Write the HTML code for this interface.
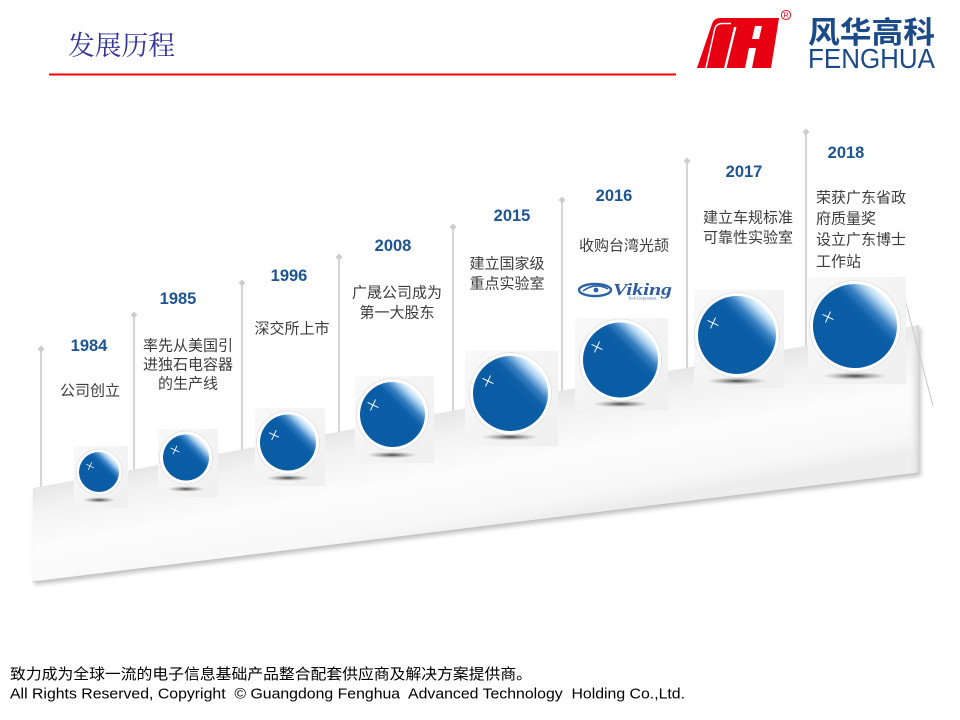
<!DOCTYPE html>
<html>
<head>
<meta charset="utf-8">
<style>
html,body{margin:0;padding:0;background:#fff;}
svg{display:block;}
text{font-family:"Liberation Sans","Noto Sans CJK SC",sans-serif;}
</style>
</head>
<body>
<svg width="960" height="720" viewBox="0 0 960 720" xmlns="http://www.w3.org/2000/svg">
<defs>
  <linearGradient id="ramp" gradientUnits="userSpaceOnUse" x1="476" y1="406" x2="498" y2="528">
    <stop offset="0" stop-color="#e6e6e6"/>
    <stop offset="0.18" stop-color="#f2f2f2"/>
    <stop offset="0.5" stop-color="#fcfcfc"/>
    <stop offset="0.85" stop-color="#f8f8f8"/>
    <stop offset="1" stop-color="#ededed"/>
  </linearGradient>
  <linearGradient id="rightEdge" x1="0" y1="0" x2="1" y2="0">
    <stop offset="0" stop-color="#ffffff" stop-opacity="0"/>
    <stop offset="1" stop-color="#d5d5d5"/>
  </linearGradient>
  <filter id="blur3" x="-10%" y="-10%" width="120%" height="130%">
    <feGaussianBlur stdDeviation="2"/>
  </filter>
  <linearGradient id="ball" x1="0.85" y1="0.15" x2="0.55" y2="0.45">
    <stop offset="0" stop-color="#f4faff"/>
    <stop offset="0.2" stop-color="#b4d7f2"/>
    <stop offset="0.5" stop-color="#3a81c4"/>
    <stop offset="0.75" stop-color="#0e61a8"/>
    <stop offset="1" stop-color="#0a5ca4"/>
  </linearGradient>
  <radialGradient id="sh" cx="0.5" cy="0.5" r="0.5">
    <stop offset="0" stop-color="#222" stop-opacity="0.85"/>
    <stop offset="0.6" stop-color="#666" stop-opacity="0.35"/>
    <stop offset="1" stop-color="#999" stop-opacity="0"/>
  </radialGradient>
  <linearGradient id="box" x1="0" y1="0" x2="1" y2="1">
    <stop offset="0" stop-color="#f9f9f9"/>
    <stop offset="1" stop-color="#efefef"/>
  </linearGradient>
  <g id="spark">
    <path d="M-6,0 L6,0 M0,-6 L0,6" stroke="#ffffff" stroke-width="1" transform="rotate(25)"/>
  </g>
</defs>

<!-- Header -->
<text x="68" y="55" font-size="27" fill="#34359a" textLength="107" lengthAdjust="spacingAndGlyphs" style="font-family:'Noto Serif CJK SC','Liberation Serif',serif;">发展历程</text>
<rect x="49" y="73.5" width="627" height="2" fill="#ff0000"/>

<!-- Logo -->
<path d="M697,68 L712,24 Q714,18 720,18 L779,18 L771,68 Z" fill="#e60012"/>
<path d="M706,68 L715,28 Q717,23.5 722,23.5 L731,23.5" stroke="#fff" stroke-width="1.5" fill="none"/>
<polygon points="724,68 726.5,68 736.5,27 734,27" fill="#fff"/>
<polygon points="745,68 752,68 756,48 749,48" fill="#fff"/>
<polygon points="752,39 759,39 762,26 755,26" fill="#fff"/>
<circle cx="786" cy="15" r="4.6" fill="none" stroke="#e60012" stroke-width="0.9"/>
<text x="786" y="17.6" font-size="7" fill="#e60012" text-anchor="middle">R</text>
<text x="808" y="43" font-size="30" font-weight="bold" fill="#1a4a8a" textLength="127" lengthAdjust="spacingAndGlyphs" style="font-family:'Noto Sans CJK SC',sans-serif;">风华高科</text>
<text x="808" y="68" font-size="27.5" fill="#1a4a8a" textLength="127" lengthAdjust="spacingAndGlyphs">FENGHUA</text>

<!-- Timeline vertical lines -->
<g stroke="#d6d6d6" stroke-width="2">
  <line x1="41" y1="349" x2="41" y2="500"/>
  <line x1="134" y1="315" x2="134" y2="500"/>
  <line x1="242" y1="283" x2="242" y2="480"/>
  <line x1="339" y1="257" x2="339" y2="460"/>
  <line x1="453" y1="227" x2="453" y2="440"/>
  <line x1="562" y1="200" x2="562" y2="420"/>
  <line x1="687" y1="161" x2="687" y2="400"/>
  <line x1="806" y1="132" x2="806" y2="380"/>
</g>
<g fill="#cdcdcd">
  <polygon points="41,345.5 44.5,349 41,352.5 37.5,349"/>
  <polygon points="134,311.5 137.5,315 134,318.5 130.5,315"/>
  <polygon points="242,279.5 245.5,283 242,286.5 238.5,283"/>
  <polygon points="339,253.5 342.5,257 339,260.5 335.5,257"/>
  <polygon points="453,223.5 456.5,227 453,230.5 449.5,227"/>
  <polygon points="562,196.5 565.5,200 562,203.5 558.5,200"/>
  <polygon points="687,157.5 690.5,161 687,164.5 683.5,161"/>
  <polygon points="806,128.5 809.5,132 806,135.5 802.5,132"/>
</g>

<!-- Ramp -->
<polygon points="35,491 921,328 921,476 35,585" fill="#8a8a8a" opacity="0.5" filter="url(#blur3)"/>
<polygon points="33,488 919,325 919,473 33,582" fill="url(#ramp)"/>
<polygon points="907,327 919,325 919,473 907,475" fill="url(#rightEdge)"/>
<line x1="33" y1="582" x2="919" y2="473" stroke="#c4c4c4" stroke-width="1"/>
<line x1="903" y1="292" x2="933" y2="406" stroke="#c8c8c8" stroke-width="1"/>

<!-- Balls -->
<!-- 1984 -->
<rect x="74" y="446" width="54" height="62" fill="url(#box)"/>
<ellipse cx="99" cy="500" rx="17" ry="3" fill="url(#sh)"/>
<circle cx="99" cy="472" r="23" fill="#fff" stroke="#e0e0e0" stroke-width="0.8"/>
<circle cx="99" cy="472" r="20" fill="url(#ball)"/>
<use href="#spark" transform="translate(90,466) scale(0.7)"/>
<!-- 1985 -->
<rect x="158" y="429" width="60" height="68" fill="url(#box)"/>
<ellipse cx="186" cy="489" rx="19" ry="3" fill="url(#sh)"/>
<circle cx="186" cy="457.5" r="26.5" fill="#fff" stroke="#e0e0e0" stroke-width="0.8"/>
<circle cx="186" cy="457.5" r="23" fill="url(#ball)"/>
<use href="#spark" transform="translate(175,450) scale(0.8)"/>
<!-- 1996 -->
<rect x="255" y="408" width="70" height="78" fill="url(#box)"/>
<ellipse cx="288" cy="478" rx="23" ry="3.2" fill="url(#sh)"/>
<circle cx="288" cy="442.5" r="31.5" fill="#fff" stroke="#e0e0e0" stroke-width="0.8"/>
<circle cx="288" cy="442.5" r="28" fill="url(#ball)"/>
<use href="#spark" transform="translate(274,435) scale(0.9)"/>
<!-- 2008 -->
<rect x="355" y="376" width="79" height="87" fill="url(#box)"/>
<ellipse cx="392" cy="455" rx="26" ry="3.4" fill="url(#sh)"/>
<circle cx="392.5" cy="414.5" r="36" fill="#fff" stroke="#e0e0e0" stroke-width="0.8"/>
<circle cx="392.5" cy="414.5" r="32.5" fill="url(#ball)"/>
<use href="#spark" transform="translate(373,405)"/>
<!-- 2015 -->
<rect x="465" y="351" width="93" height="95" fill="url(#box)"/>
<ellipse cx="510" cy="437" rx="29" ry="3.6" fill="url(#sh)"/>
<circle cx="510.5" cy="393.5" r="41" fill="#fff" stroke="#e0e0e0" stroke-width="0.8"/>
<circle cx="510.5" cy="393.5" r="37.5" fill="url(#ball)"/>
<use href="#spark" transform="translate(488,381)"/>
<!-- 2016 -->
<rect x="575" y="318" width="93" height="92" fill="url(#box)"/>
<ellipse cx="621" cy="404" rx="29" ry="3.6" fill="url(#sh)"/>
<circle cx="620.5" cy="360" r="41" fill="#fff" stroke="#e0e0e0" stroke-width="0.8"/>
<circle cx="620.5" cy="360" r="37.5" fill="url(#ball)"/>
<use href="#spark" transform="translate(597,347)"/>
<!-- 2017 -->
<rect x="694" y="290" width="90" height="98" fill="url(#box)"/>
<ellipse cx="737" cy="381" rx="31" ry="3.8" fill="url(#sh)"/>
<circle cx="737" cy="335" r="42.5" fill="#fff" stroke="#e0e0e0" stroke-width="0.8"/>
<circle cx="737" cy="335" r="39" fill="url(#ball)"/>
<use href="#spark" transform="translate(713,323)"/>
<!-- 2018 -->
<rect x="808" y="277" width="98" height="107" fill="url(#box)"/>
<ellipse cx="855" cy="376" rx="33" ry="4" fill="url(#sh)"/>
<circle cx="855" cy="326" r="45.5" fill="#fff" stroke="#e0e0e0" stroke-width="0.8"/>
<circle cx="855" cy="326" r="42" fill="url(#ball)"/>
<use href="#spark" transform="translate(828,317)"/>

<!-- Years -->
<g font-size="16.5" font-weight="bold" fill="#1c5592" text-anchor="middle">
  <text x="89" y="351">1984</text>
  <text x="178" y="304">1985</text>
  <text x="289" y="281">1996</text>
  <text x="393" y="251">2008</text>
  <text x="512" y="221">2015</text>
  <text x="614" y="201">2016</text>
  <text x="744" y="177">2017</text>
  <text x="846" y="158">2018</text>
</g>

<!-- Descriptions -->
<g font-size="15" fill="#3c3c3c" text-anchor="middle" style="font-family:'Liberation Sans','Noto Sans CJK SC',sans-serif;">
  <text x="90" y="395.5">公司创立</text>
  <text x="188" y="350.5">率先从美国引</text>
  <text x="188" y="369.5">进独石电容器</text>
  <text x="188" y="388.5">的生产线</text>
  <text x="292" y="333.5">深交所上市</text>
  <text x="397" y="297.5">广晟公司成为</text>
  <text x="397" y="317.5">第一大股东</text>
  <text x="507" y="268.5">建立国家级</text>
  <text x="507" y="288.5">重点实验室</text>
  <text x="624" y="250.5">收购台湾光颉</text>
  <text x="748" y="222.5">建立车规标准</text>
  <text x="748" y="242.5">可靠性实验室</text>
</g>
<g font-size="15" fill="#3c3c3c" style="font-family:'Liberation Sans','Noto Sans CJK SC',sans-serif;">
  <text x="816" y="202.5">荣获广东省政</text>
  <text x="816" y="223.5">府质量奖</text>
  <text x="816" y="244.5">设立广东博士</text>
  <text x="816" y="266.5">工作站</text>
</g>

<!-- Viking logo -->
<g>
  <ellipse cx="595" cy="290" rx="16" ry="6" fill="none" stroke="#2a63a8" stroke-width="2.4"/>
  <path d="M583,291 Q595,282 608,289" fill="none" stroke="#2a63a8" stroke-width="1.5"/>
  <circle cx="596" cy="290" r="2.4" fill="#2a63a8"/>
  <text x="613" y="295" font-size="17" font-weight="bold" font-style="italic" fill="#2d5da3" textLength="59" lengthAdjust="spacingAndGlyphs" style="font-family:'Liberation Serif',serif;">Viking</text>
  <text x="628" y="299.5" font-size="4" fill="#2d5da3" style="font-family:'Liberation Serif',serif;">Tech Corporation</text>
</g>

<!-- Footer -->
<text x="10" y="679" font-size="15" fill="#000" textLength="522" lengthAdjust="spacingAndGlyphs" style="font-family:'Liberation Sans','Noto Sans CJK SC',sans-serif;">致力成为全球一流的电子信息基础产品整合配套供应商及解决方案提供商。</text>
<text x="10" y="698.5" font-size="15" fill="#000" textLength="675" lengthAdjust="spacingAndGlyphs" xml:space="preserve">All Rights Reserved, Copyright  © Guangdong Fenghua  Advanced Technology  Holding Co.,Ltd.</text>
</svg>
</body>
</html>
